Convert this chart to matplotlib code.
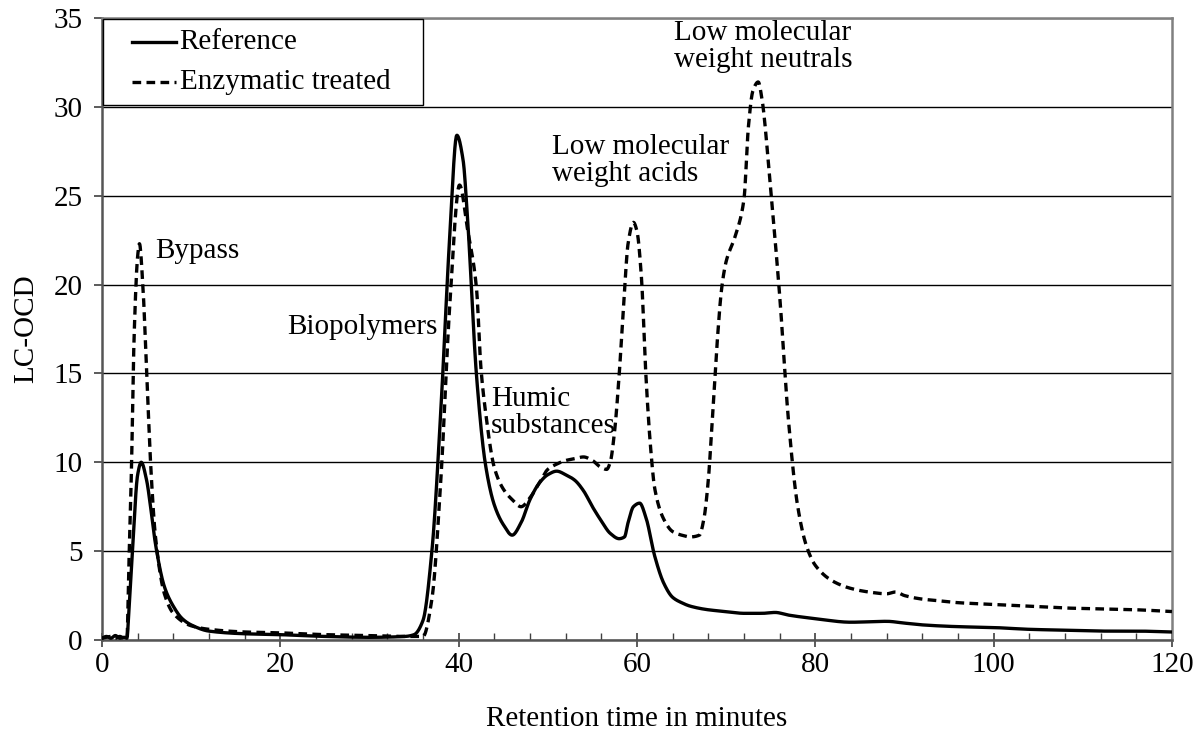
import numpy as np
import matplotlib
matplotlib.use("Agg")
import matplotlib.pyplot as plt
from matplotlib.ticker import MultipleLocator
from matplotlib.patches import Rectangle

# LC-OCD chromatograms (retention time in minutes, signal)
ref_t = [0, 0.5, 1.0, 1.5, 2.0, 2.5, 2.8, 3.0, 3.5, 4.0, 4.4, 5.0, 5.5, 6.0, 7.0, 8.0, 9.0,
         10, 12, 16, 20, 25, 30, 34, 35, 36, 37, 38, 39, 39.8, 40.5, 41, 42, 43, 44, 45,
         46, 47, 48, 49, 50, 51, 52, 53, 54, 55, 56, 57, 58, 58.6, 59, 59.6, 60.3, 61,
         62, 63, 64, 65, 66, 68, 70, 72, 74, 75.5, 77, 80, 84, 88, 90, 92, 96, 100, 104,
         108, 112, 116, 120]
ref_y = [0.1, 0.2, 0.1, 0.25, 0.1, 0.15, 0.1, 1.5, 5.8, 9.3, 10.0, 9.0, 7.3, 5.4, 3.0, 1.9,
         1.2, 0.85, 0.5, 0.35, 0.3, 0.2, 0.15, 0.2, 0.3, 1.1, 5.0, 12.9, 22.7, 28.4, 27.0,
         23.7, 14.9, 9.9, 7.6, 6.5, 5.9, 6.6, 7.9, 8.8, 9.3, 9.5, 9.3, 9.0, 8.4, 7.5, 6.7,
         6.0, 5.7, 5.8, 6.6, 7.5, 7.7, 6.9, 4.7, 3.2, 2.4, 2.1, 1.9, 1.7, 1.6, 1.5, 1.5,
         1.55, 1.4, 1.2, 1.0, 1.05, 0.95, 0.85, 0.75, 0.7, 0.6, 0.55, 0.5, 0.5, 0.45]

enz_t = [0, 0.5, 1.0, 1.5, 2.0, 2.5, 2.8, 3.0, 3.3, 3.6, 4.0, 4.2, 4.6, 5.0, 5.5, 6.0, 7.0,
         8.0, 10, 12, 16, 20, 25, 30, 34, 35, 36, 37, 38, 39, 40.1, 41, 42, 42.5, 43, 44,
         45, 46, 47, 48, 49, 50, 51, 52, 53, 54, 55, 56, 56.6, 57, 57.5, 58, 58.5, 59,
         59.6, 60, 60.5, 61, 61.5, 62, 63, 64, 65, 66, 67, 67.5, 68, 68.5, 69, 69.5, 70,
         71, 72, 72.5, 73, 73.6, 74, 75, 76, 77, 78, 79, 80, 82, 84, 86, 88, 89, 90, 92,
         94, 96, 100, 104, 108, 112, 116, 120]
enz_y = [0.1, 0.15, 0.2, 0.1, 0.2, 0.1, 0.1, 3.9, 9.5, 17.0, 21.6, 22.3, 19.8, 15.2, 9.5,
         5.8, 2.6, 1.5, 0.8, 0.6, 0.45, 0.4, 0.3, 0.25, 0.2, 0.2, 0.2, 2.3, 9.0, 18.8,
         25.6, 23.1, 19.8, 15.3, 12.9, 9.7, 8.5, 7.9, 7.5, 8.0, 8.8, 9.6, 9.9, 10.1, 10.2,
         10.3, 10.1, 9.7, 9.6, 10.0, 11.8, 14.9, 18.8, 22.3, 23.5, 23.0, 20.4, 14.9, 11.0,
         8.5, 6.8, 6.1, 5.9, 5.8, 5.9, 6.8, 9.0, 12.9, 16.8, 19.8, 21.3, 22.7, 24.8, 28.9,
         30.9, 31.4, 30.5, 25.3, 19.4, 12.3, 7.6, 5.3, 4.2, 3.3, 2.9, 2.7, 2.6, 2.7, 2.5,
         2.3, 2.2, 2.1, 2.0, 1.9, 1.8, 1.75, 1.7, 1.6]

labels = ["Bypass", "Biopolymers", "Humic\nsubstances",
          "Low molecular\nweight acids", "Low molecular\nweight neutrals"]
label_xy = [(6.0, 21.9), (20.8, 17.6), (43.6, 12.8), (50.5, 27.0), (64.2, 33.4)]

series_names = ['Reference', 'Enzymatic treated']

plt.rcParams['font.family'] = ['Liberation Serif', 'DejaVu Serif']
plt.rcParams['font.size'] = 21


def pchip(t, y, n=3000):
    t = np.asarray(t, float)
    y = np.asarray(y, float)
    h = np.diff(t)
    d = np.diff(y) / h
    m = np.zeros_like(y)
    for i in range(1, len(y) - 1):
        if d[i - 1] * d[i] > 0:
            w1 = 2 * h[i] + h[i - 1]
            w2 = h[i] + 2 * h[i - 1]
            m[i] = (w1 + w2) / (w1 / d[i - 1] + w2 / d[i])
    m[0], m[-1] = d[0], d[-1]
    tt = np.linspace(t[0], t[-1], n)
    idx = np.clip(np.searchsorted(t, tt) - 1, 0, len(h) - 1)
    s = (tt - t[idx]) / h[idx]
    h00 = 2 * s**3 - 3 * s**2 + 1
    h10 = s**3 - 2 * s**2 + s
    h01 = -2 * s**3 + 3 * s**2
    h11 = s**3 - s**2
    yy = h00 * y[idx] + h10 * h[idx] * m[idx] + h01 * y[idx + 1] + h11 * h[idx] * m[idx + 1]
    return tt, yy


fig = plt.figure(figsize=(12.04, 7.31), dpi=100)
ax = fig.add_axes([0.0847, 0.1245, 0.8887, 0.8509])

tr, yr = pchip(ref_t, ref_y)
te, ye = pchip(enz_t, enz_y)

lw = 2.4
dash = (2.6, 1.6)
ax.plot(tr, yr, color='black', lw=lw, zorder=3)
ax.plot(te, ye, color='black', lw=lw, dashes=dash, zorder=3)

for txt, (x, y) in zip(labels, label_xy):
    ax.text(x, y, txt, ha='left', va='center', linespacing=1.05, zorder=4)

ax.set_xlim(0, 120)
ax.set_ylim(0, 35)
ax.xaxis.set_major_locator(MultipleLocator(20))
ax.xaxis.set_minor_locator(MultipleLocator(4))
ax.yaxis.set_major_locator(MultipleLocator(5))
ax.tick_params(axis='x', which='major', direction='inout', length=10, width=1.2, color='#404040', pad=4)
ax.tick_params(axis='x', which='minor', direction='in', length=5, width=1.0, color='#404040')
ax.tick_params(axis='y', which='major', direction='out', length=6, width=1.2, color='#404040', pad=8)
ax.grid(axis='y', color='black', lw=1.0)
ax.set_axisbelow(True)
for s in ax.spines.values():
    s.set_color('#808080')
    s.set_linewidth(1.8)
ax.spines['left'].set_color('#555555')
ax.spines['bottom'].set_color('#555555')

ax.set_xlabel('Retention time in minutes', labelpad=20)
ax.set_ylabel('LC-OCD', labelpad=10)

# legend box drawn by hand (wide side padding like the original)
tA = ax.transAxes
ax.add_patch(Rectangle((0.0005, 0.860), 0.2995, 0.139, transform=tA, facecolor='white',
                       edgecolor='black', lw=1.0, zorder=5, clip_on=False))
rows = [0.962, 0.8976]
for name, yrow, style in zip(series_names, rows, [None, dash]):
    ln, = ax.plot([0.028, 0.0692], [yrow, yrow], transform=tA, color='black', lw=lw,
                  zorder=6, clip_on=False)
    if style:
        ln.set_dashes(style)
    ax.text(0.0725, yrow, name, transform=tA, ha='left', va='center', zorder=6)

fig.savefig('out.png', dpi=100)
